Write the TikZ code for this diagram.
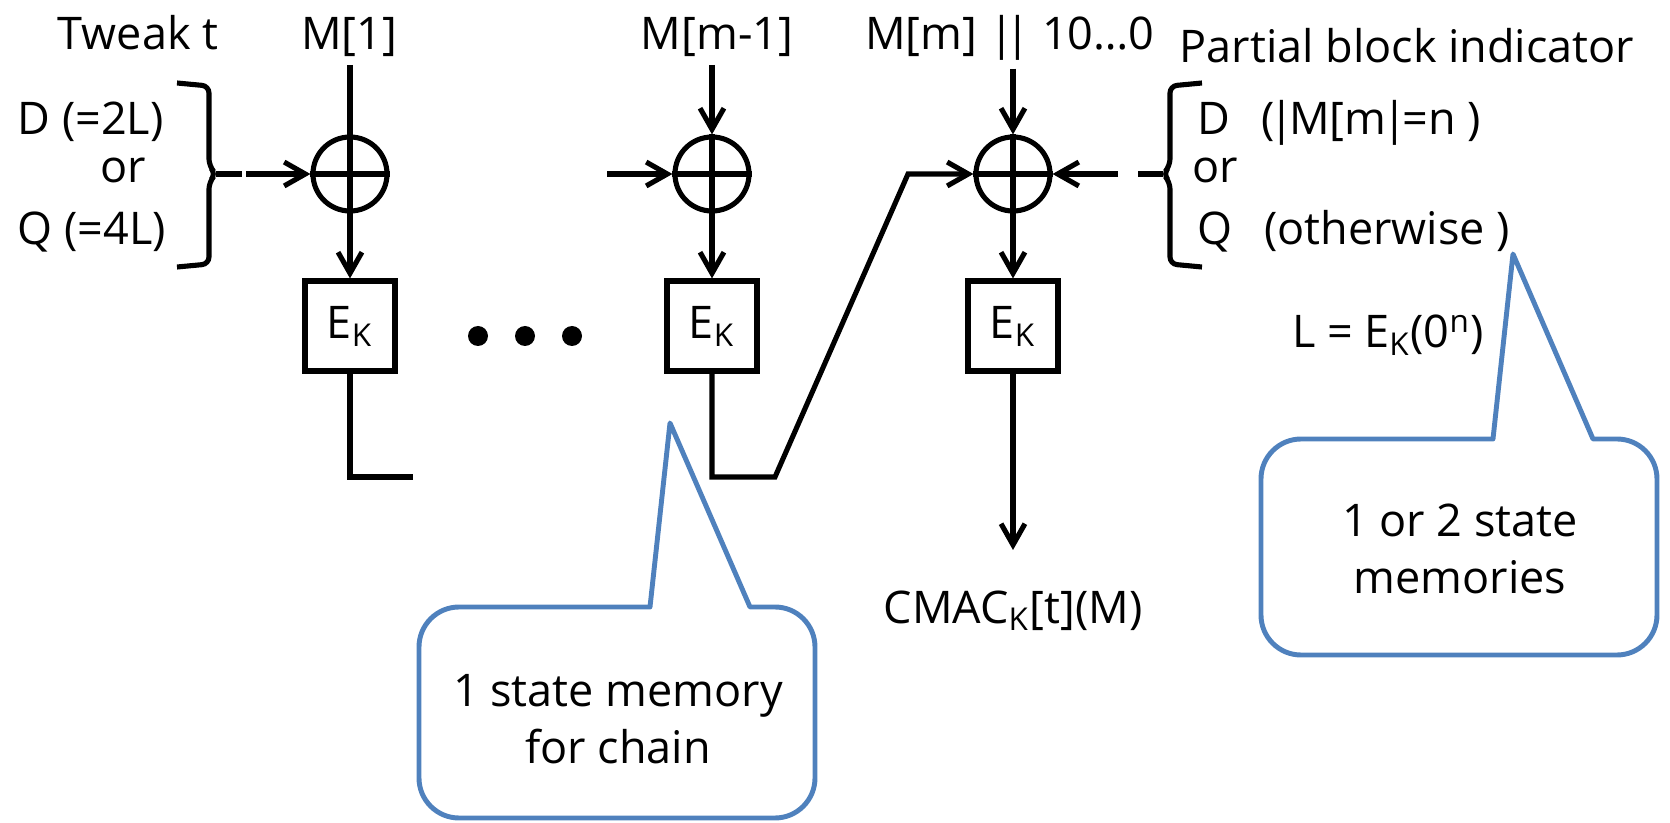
\documentclass[tikz,border=0pt]{standalone}
\usepackage{fontspec}
\setmainfont{Open Sans}
\usepackage{tikz}
\usetikzlibrary{arrows.meta}
\usepackage{xcolor}
\definecolor{calloutblue}{HTML}{4F81BD}

\begin{document}
\begin{tikzpicture}[>={Straight Barb[length=6pt,width=6.8pt]},font=\fontsize{12.8}{16.2}\selectfont,
  wire/.style={line width=1.45pt},
  xorop/.style={circle,draw,line width=1.45pt,minimum size=0.74cm,inner sep=0pt},
  blockbox/.style={draw,line width=1.45pt,minimum size=0.9cm,inner sep=0pt},
  callout/.style={draw=calloutblue,line width=1.4pt,line join=round},
  lbl/.style={inner sep=0pt},
  mlbl/.style={inner sep=0.2em}]
\useasboundingbox (0,0) rectangle (16.70,8.22);
% inputs on top
\node[lbl,anchor=base] (tweak) at (1.38,7.72) {Tweak t};
\node[mlbl,anchor=base] (m1) at (3.49,7.72) {M[1]};
\node[mlbl,anchor=base] (m2) at (7.17,7.72) {M[m-1]};
\node[mlbl,anchor=base] (m3) at (10.10,7.72) {M[m] |\kern-0.18em| 10…0};
\node[lbl,anchor=base] (pbi) at (14.07,7.59) {Partial block indicator};
% xor and block cipher
\node[xorop] (x1) at (3.50,6.48) {};
\node[xorop] (x2) at (7.12,6.48) {};
\node[xorop] (x3) at (10.13,6.48) {};
\node[blockbox] (e1) at (3.50,4.96) {E\textsubscript{K}};
\node[blockbox] (e2) at (7.12,4.96) {E\textsubscript{K}};
\node[blockbox] (e3) at (10.13,4.96) {E\textsubscript{K}};
\foreach \x in {4.78,5.25,5.72} \fill (\x,4.86) circle (0.1);
% tweak masks
\node[lbl,anchor=base west] (tdl) at (0.17,6.87) {D (=2L)};
\node[lbl,anchor=base] (tor) at (1.23,6.39) {or};
\node[lbl,anchor=base west] (tql) at (0.17,5.77) {Q (=4L)};
\draw[wire,rounded corners=2pt] (1.77,7.39) -- (2.09,7.36) -- (2.09,6.56) -- (2.16,6.48) -- (2.09,6.40) -- (2.09,5.58) -- (1.77,5.55);
\draw[wire] (2.16,6.48) -- (2.42,6.48);
\node[lbl,anchor=base west] (pd) at (11.97,6.87) {D\hspace{0.7em}(\kern-0.12em|\kern-0.12em M[m\kern-0.1em|\kern-0.1em=n )};
\node[lbl,anchor=base west] (por) at (11.92,6.39) {or};
\node[lbl,anchor=base west] (pq) at (11.97,5.77) {Q\hspace{0.7em}(otherwise )};
\draw[wire,rounded corners=2pt] (12.02,7.39) -- (11.70,7.36) -- (11.70,6.56) -- (11.63,6.48) -- (11.70,6.40) -- (11.70,5.58) -- (12.02,5.55);
\draw[wire] (11.63,6.48) -- (11.38,6.48);
\node[lbl,anchor=base] (lkey) at (13.88,4.74) {L = E\textsubscript{K}(0\textsuperscript{n})};
% wires
\coordinate (tw) at (2.46,6.48);
\coordinate (in2) at (6.07,6.48);
\coordinate (pb) at (11.18,6.48);
\coordinate (c1) at (4.13,3.45);
\coordinate (c2a) at (7.75,3.45);
\coordinate (c2b) at (9.08,6.48);
\coordinate (tag) at (10.13,2.72);
\draw[wire] (m1.south -| x1) -- (x1.north);
\draw[wire,->] (m2.south -| x2) -- (x2.north);
\draw[wire,->] (m3.south -| x3) -- (x3.north);
\foreach \i in {1,2,3} {
  \draw[wire] (x\i.north) -- (x\i.south) (x\i.west) -- (x\i.east);
  \draw[wire,->] (x\i.south) -- (e\i.north);
}
\draw[wire,->] (tw) -- (x1.west);
\draw[wire,->] (in2) -- (x2.west);
\draw[wire,->] (pb) -- (x3.east);
\draw[wire] (e1.south) |- (c1);
\draw[wire,->] (e2.south) |- (c2a) -- (c2b) -- (x3.west);
\draw[wire,->] (e3.south) -- (tag);
\node[lbl,anchor=base] (cmac) at (10.13,1.99) {CMAC\textsubscript{K}[t](M)};
% callouts
\draw[callout] (6.50,2.15) -- (6.70,3.99) -- (7.50,2.15) -- (7.75,2.15)
  arc[start angle=90,end angle=0,radius=0.4] -- (8.15,0.44)
  arc[start angle=0,end angle=-90,radius=0.4] -- (4.59,0.04)
  arc[start angle=270,end angle=180,radius=0.4] -- (4.19,1.75)
  arc[start angle=180,end angle=90,radius=0.4] -- cycle;
\node[lbl,align=center] (note1) at (6.18,1.03) {1 state memory\\for chain};
\draw[callout] (14.93,3.83) -- (15.13,5.68) -- (15.93,3.83) -- (16.17,3.83)
  arc[start angle=90,end angle=0,radius=0.4] -- (16.57,2.07)
  arc[start angle=0,end angle=-90,radius=0.4] -- (13.01,1.67)
  arc[start angle=270,end angle=180,radius=0.4] -- (12.61,3.43)
  arc[start angle=180,end angle=90,radius=0.4] -- cycle;
\node[lbl,align=center] (note2) at (14.60,2.73) {1 or 2 state\\memories};
\end{tikzpicture}
\end{document}
